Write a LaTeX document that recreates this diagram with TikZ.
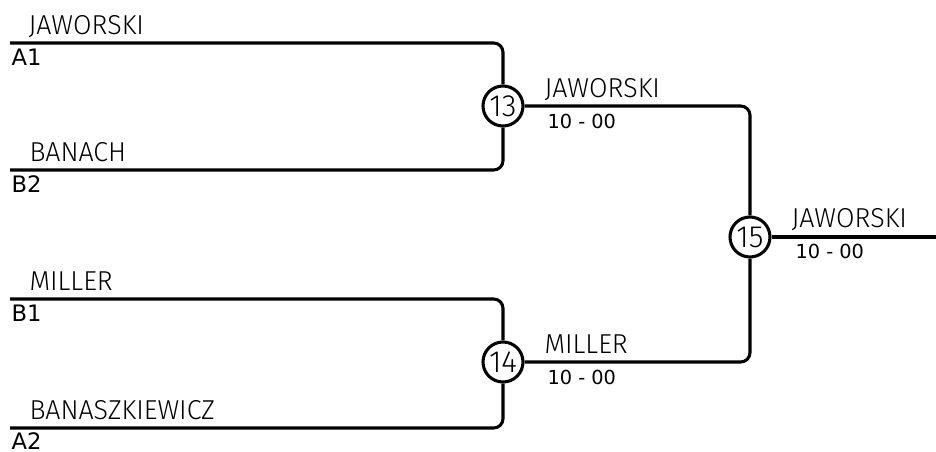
\documentclass[tikz,border=0pt]{standalone}
\usepackage{fontspec}
\setmainfont{DejaVu Sans}
\newfontfamily\namefont[FakeStretch=0.98]{Fira Sans Light}
\usepackage{tikz}
\usetikzlibrary{backgrounds}
\tikzstyle{bracket}=[x=0.75pt, y=-0.75pt, line width=2.3pt, rounded corners=7pt]
\tikzstyle{player}=[inner sep=0pt, anchor=base west, font=\namefont\fontsize{20.5}{20.5}\selectfont]
\tikzstyle{seed}=[inner sep=0pt, anchor=base west, font=\fontsize{17}{17}\selectfont]
\tikzstyle{score}=[inner sep=0pt, anchor=base west, font=\fontsize{14.5}{14.5}\selectfont]
\tikzstyle{game}=[circle, draw, line width=2.3pt, minimum size=30pt, inner sep=0pt, fill=white, font=\namefont\fontsize{23}{23}\selectfont]

\begin{document}
\begin{tikzpicture}[bracket]
	\useasboundingbox (0,0) rectangle (936,452);

	%The games
	\node[game] (g13) at (503,106) {13};
	\node[game] (g14) at (503,362) {14};
	\node[game] (g15) at (750,237) {15};

	%The entries
	\coordinate (a1) at (10,43);
	\coordinate (b2) at (10,170);
	\coordinate (b1) at (10,299);
	\coordinate (a2) at (10,428);
	\coordinate (out) at (936,237);

	\node[player] (na1) at (27,35) {JAWORSKI};
	\node[seed] (sa1) at (10,66) {A1};
	\node[player] (nb2) at (28,162) {BANACH};
	\node[seed] (sb2) at (10,193) {B2};
	\node[player] (nb1) at (28,291) {MILLER};
	\node[seed] (sb1) at (10,322) {B1};
	\node[player] (na2) at (28,420) {BANASZKIEWICZ};
	\node[seed] (sa2) at (10,450) {A2};

	%The connectors
	\draw (a1) -| (g13);
	\draw (b2) -| (g13);
	\draw (b1) -| (g14);
	\draw (a2) -| (g14);
	\draw (g13) -| (g15);
	\draw (g14) -| (g15);
	\draw (g15) -- (out);

	%The winners
	\node[player] (w13) at (543,98) {JAWORSKI};
	\node[score] (r13) at (546,129) {10 - 00};
	\node[player] (w14) at (543,354) {MILLER};
	\node[score] (r14) at (546,385) {10 - 00};
	\node[player] (w15) at (790,228) {JAWORSKI};
	\node[score] (r15) at (794,259) {10 - 00};
\end{tikzpicture}
\end{document}
